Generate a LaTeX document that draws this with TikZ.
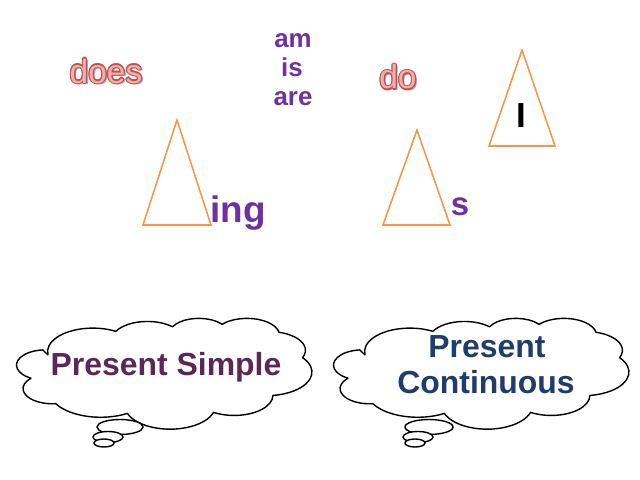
\documentclass[tikz,border=0pt]{standalone}
\usepackage{fontspec}
\setmainfont{Liberation Sans}
\usepackage{tikz}
\usepackage{xcolor}
\definecolor{verbpurple}{HTML}{7030A0}
\definecolor{simpleplum}{HTML}{5C2656}
\definecolor{contnavy}{HTML}{1F3D6B}
\definecolor{triorange}{HTML}{F79646}
\definecolor{doesfill}{HTML}{F2AFAD}
\definecolor{doesline}{HTML}{C0504D}
% cloud outline in a 4320 x 4320 box
\newcommand{\cloudoutline}{%
    (390,1437) \foreach \w/\h/\s/\d in {675.3/919.0/-190.4875/123.7805, 533.3/726.7/-144.1024/89.9452,
        436.5/594.5/-145.8079/99.7230, 485.7/659.5/-130.9861/117.2417, 533.3/727.3/-78.7089/109.0269,
        677.5/922.0/-46.2673/130.2690, 578.5/786.7/0.6250/114.0333, 675.2/921.5/22.4654/131.8493,
        772.0/1054.3/66.2421/75.7038, 436.0/591.8/-274.9421/146.7356, 434.5/594.5/-246.8285/152.5255}
    {arc[x radius=\w,y radius=\h,start angle={atan2(\w*sin(\s),\h*cos(\s))},
        delta angle={mod(atan2(\w*sin(\s+\d),\h*cos(\s+\d))-atan2(\w*sin(\s),\h*cos(\s))+720,360)}]} -- cycle}

\begin{document}
\begin{tikzpicture}[x=0.025cm,y=-0.025cm,every node/.style={inner sep=0pt},
    tri/.style={draw=triorange,line width=1.1pt,line join=miter},
    thought/.style={draw=black,fill=white,line width=1pt,line join=round},
    bubble/.style={draw=black,fill=white,line width=1pt},
    verb/.style={font=\bfseries\fontsize{18.4}{20}\selectfont,text=verbpurple,anchor=base},
    pinkword/.style={font=\fontsize{23.8}{26}\selectfont,anchor=base},
    label/.style={font=\bfseries\fontsize{22.7}{26}\selectfont,anchor=base}]
    \useasboundingbox (0,0) rectangle (640,480);
    % triangles
    \draw[tri] (177,120) -- (211,225) -- (143,225) -- cycle;
    \draw[tri] (417,130) -- (450,225) -- (383,225) -- cycle;
    \draw[tri] (522,50) -- (555,146) -- (489,146) -- cycle;
    \node[font=\bfseries\fontsize{24.8}{26}\selectfont,anchor=base] (pron) at (521,128) {I};
    % endings
    \node[font=\bfseries\fontsize{26.2}{28}\selectfont,text=verbpurple,anchor=base west] (ing) at (210,222) {ing};
    \node[font=\bfseries\fontsize{23.4}{26}\selectfont,text=verbpurple,anchor=base] (ends) at (460,215) {s};
    % be forms
    \node[verb] (am) at (293,47) {am};
    \node[verb] (is) at (292,76) {is};
    \node[verb] (are) at (293,105) {are};
    % does / do
    \node[pinkword,text=black!35] (doesshadow) at (108,85) {does};
    \node[pinkword,text=black!35] (doshadow) at (400,91) {do};
    \foreach \a in {0,30,...,330} {
        \node[pinkword,text=doesline] (does\a) at ([shift={(\a:0.8pt)}]106,83) {does};
        \node[pinkword,text=doesline] (do\a) at ([shift={(\a:0.8pt)}]398,89) {do};
    }
    \node[pinkword,text=doesfill] (does) at (106,83) {does};
    \node[pinkword,text=doesfill] (do) at (398,89) {do};
    % clouds
    \begin{scope}[shift={(21.8,318)},x=0.001679cm,y=-0.000643cm]
        \draw[thought] \cloudoutline;
    \end{scope}
    \begin{scope}[shift={(338.8,318)},x=0.001679cm,y=-0.000643cm]
        \draw[thought] \cloudoutline;
    \end{scope}
    \draw[bubble] (120,427) ellipse [x radius=23,y radius=7.5];
    \draw[bubble] (108,437) ellipse [x radius=15,y radius=5.5];
    \draw[bubble] (104,443) ellipse [x radius=10,y radius=4];
    \draw[bubble] (429,427) ellipse [x radius=24,y radius=7.5];
    \draw[bubble] (418,437) ellipse [x radius=15,y radius=5.5];
    \draw[bubble] (415,443) ellipse [x radius=10,y radius=4];
    \node[label,text=simpleplum] (simpletxt) at (166,375) {Present Simple};
    \node[label,text=contnavy] (pres) at (487,357) {Present};
    \node[label,text=contnavy] (contin) at (486,393) {Continuous};
\end{tikzpicture}
\end{document}
